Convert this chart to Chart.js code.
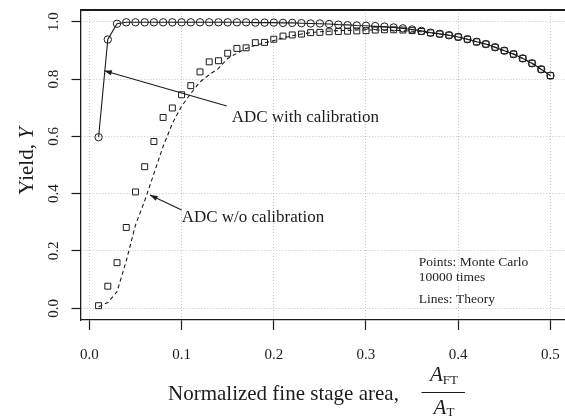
<!DOCTYPE html>
<html>
<head>
<meta charset="utf-8">
<title>ADC yield vs fine stage area</title>
<script src="https://cdn.jsdelivr.net/npm/chart.js@4.4.1/dist/chart.umd.min.js"></script>
<style>
  html, body { margin: 0; padding: 0; background: #fff; }
  #yieldChart { display: block; }
</style>
</head>
<body>
<canvas id="yieldChart" width="565" height="418"></canvas>
<script>
// ------------------------------------------------------- //
// Data
// ------------------------------------------------------ //

// normalized fine stage area A_FT / A_T
var areas = [0.01, 0.02, 0.03, 0.04, 0.05, 0.06, 0.07, 0.08, 0.09, 0.10,
             0.11, 0.12, 0.13, 0.14, 0.15, 0.16, 0.17, 0.18, 0.19, 0.20,
             0.21, 0.22, 0.23, 0.24, 0.25, 0.26, 0.27, 0.28, 0.29, 0.30,
             0.31, 0.32, 0.33, 0.34, 0.35, 0.36, 0.37, 0.38, 0.39, 0.40,
             0.41, 0.42, 0.43, 0.44, 0.45, 0.46, 0.47, 0.48, 0.49, 0.50];

// Monte Carlo, with calibration (circles)
var mcWithCal = [0.597, 0.938, 0.993, 0.998, 0.998, 0.998, 0.998, 0.998, 0.998, 0.998,
                 0.998, 0.998, 0.998, 0.998, 0.998, 0.998, 0.998, 0.997, 0.997, 0.997,
                 0.996, 0.996, 0.995, 0.994, 0.994, 0.992, 0.990, 0.988, 0.987, 0.986,
                 0.985, 0.983, 0.980, 0.977, 0.973, 0.968, 0.962, 0.958, 0.953, 0.947,
                 0.939, 0.930, 0.922, 0.911, 0.899, 0.887, 0.872, 0.855, 0.834, 0.812];

// Monte Carlo, without calibration (squares)
var mcNoCal = [0.009, 0.077, 0.159, 0.282, 0.406, 0.494, 0.582, 0.666, 0.699, 0.745,
               0.777, 0.825, 0.860, 0.864, 0.890, 0.907, 0.909, 0.927, 0.928, 0.939,
               0.950, 0.954, 0.957, 0.962, 0.963, 0.965, 0.966, 0.967, 0.968, 0.969,
               0.971, 0.972, 0.972, 0.971, 0.969, 0.966, 0.961, 0.957, 0.953, 0.947,
               0.939, 0.930, 0.922, 0.911, 0.899, 0.887, 0.872, 0.855, 0.834, 0.812];

// theory, with calibration (solid)
var theoryWithCal = [0.597, 0.938, 0.993, 0.998, 0.998, 0.998, 0.998, 0.998, 0.998, 0.998,
                     0.998, 0.998, 0.998, 0.998, 0.998, 0.998, 0.998, 0.997, 0.997, 0.997,
                     0.996, 0.996, 0.995, 0.994, 0.993, 0.992, 0.990, 0.989, 0.987, 0.986,
                     0.984, 0.982, 0.980, 0.977, 0.973, 0.968, 0.962, 0.958, 0.953, 0.947,
                     0.939, 0.930, 0.922, 0.911, 0.899, 0.887, 0.872, 0.855, 0.834, 0.812];

// theory, without calibration (dashed)
var theoryNoCal = [0.005, 0.020, 0.058, 0.165, 0.290, 0.375, 0.470, 0.565, 0.645, 0.705,
                   0.750, 0.790, 0.815, 0.837, 0.872, 0.890, 0.907, 0.918, 0.926, 0.934,
                   0.944, 0.951, 0.957, 0.962, 0.965, 0.967, 0.969, 0.970, 0.971, 0.971,
                   0.971, 0.971, 0.970, 0.969, 0.967, 0.965, 0.961, 0.957, 0.953, 0.947,
                   0.939, 0.930, 0.922, 0.911, 0.899, 0.887, 0.872, 0.855, 0.834, 0.812];

var xTicks = [0.0, 0.1, 0.2, 0.3, 0.4, 0.5];
var yTicks = [0.0, 0.2, 0.4, 0.6, 0.8, 1.0];

var notes = ['Points: Monte Carlo', '10000 times', 'Lines: Theory'];

function pairs(ys) {
    return areas.map(function (x, i) { return { x: x, y: ys[i] }; });
}

// ------------------------------------------------------- //
// Helpers
// ------------------------------------------------------ //

var INK = '#1c1c1c';
var SERIF = "'Liberation Serif', 'DejaVu Serif', serif";

function arrow(ctx, x0, y0, x1, y1) {
    var ang = Math.atan2(y1 - y0, x1 - x0);
    var len = 8, spread = 0.33;
    ctx.beginPath();
    ctx.moveTo(x0, y0);
    ctx.lineTo(x1, y1);
    ctx.stroke();
    ctx.beginPath();
    ctx.moveTo(x1, y1);
    ctx.lineTo(x1 - len * Math.cos(ang - spread), y1 - len * Math.sin(ang - spread));
    ctx.lineTo(x1 - len * Math.cos(ang + spread), y1 - len * Math.sin(ang + spread));
    ctx.closePath();
    ctx.fill();
}

// frame top, arrows, notes and axis titles
var decorations = {
    id: 'decorations',
    afterDraw: function (chart) {
        var ctx = chart.ctx;
        var area = chart.chartArea;
        var sx = chart.scales.x, sy = chart.scales.y;
        function px(v) { return sx.getPixelForValue(v); }
        function py(v) { return sy.getPixelForValue(v); }

        ctx.save();
        ctx.strokeStyle = INK;
        ctx.fillStyle = INK;

        // top of the frame
        ctx.lineWidth = 2;
        ctx.beginPath();
        ctx.moveTo(area.left, area.top);
        ctx.lineTo(area.right, area.top);
        ctx.stroke();

        // labelled arrows
        ctx.lineWidth = 1.1;
        arrow(ctx, px(0.149), py(0.706), px(0.0162), py(0.829));
        arrow(ctx, px(0.1001), py(0.343), px(0.0657), py(0.395));

        ctx.font = '17px ' + SERIF;
        ctx.textAlign = 'left';
        ctx.textBaseline = 'middle';
        ctx.fillText('ADC with calibration', px(0.1543), py(0.667));
        ctx.fillText('ADC w/o calibration', px(0.1001), py(0.315));

        ctx.font = '13.5px ' + SERIF;
        ctx.fillText(notes[0], px(0.3573), py(0.159));
        ctx.fillText(notes[1], px(0.3573), py(0.108));
        ctx.fillText(notes[2], px(0.3573), py(0.031));

        // y title: Yield, Y
        ctx.save();
        ctx.translate(27.5, 161);
        ctx.rotate(-Math.PI / 2);
        ctx.font = '21px ' + SERIF;
        var w1 = ctx.measureText('Yield, ').width;
        ctx.font = 'italic 21px ' + SERIF;
        var w2 = ctx.measureText('Y').width;
        ctx.textAlign = 'left';
        ctx.font = '21px ' + SERIF;
        ctx.fillText('Yield, ', -(w1 + w2) / 2, 0);
        ctx.font = 'italic 21px ' + SERIF;
        ctx.fillText('Y', -(w1 + w2) / 2 + w1, 0);
        ctx.restore();

        // x title with A_FT / A_T fraction
        ctx.textBaseline = 'alphabetic';
        ctx.textAlign = 'left';
        ctx.font = '21px ' + SERIF;
        ctx.fillText('Normalized fine stage area,', 168, 399.5);

        function frac(text, sub, cx, base) {
            ctx.font = 'italic 21px ' + SERIF;
            var wa = ctx.measureText(text).width;
            ctx.font = '13px ' + SERIF;
            var ws = ctx.measureText(sub).width;
            var left = cx - (wa + ws) / 2;
            ctx.font = 'italic 21px ' + SERIF;
            ctx.fillText(text, left, base);
            ctx.font = '13px ' + SERIF;
            ctx.fillText(sub, left + wa, base + 2.5);
        }
        frac('A', 'FT', 444, 381);
        ctx.lineWidth = 1;
        ctx.beginPath();
        ctx.moveTo(421.5, 392.5);
        ctx.lineTo(465, 392.5);
        ctx.stroke();
        frac('A', 'T', 444, 413.5);

        ctx.restore();
    }
};

// ------------------------------------------------------- //
// Chart
// ------------------------------------------------------ //

var ctx = document.getElementById('yieldChart').getContext('2d');
var yieldChart = new Chart(ctx, {
    type: 'scatter',
    data: {
        datasets: [{
            label: 'MC with calibration',
            data: pairs(mcWithCal),
            showLine: false,
            pointStyle: 'circle',
            pointRadius: 3.7,
            pointBorderWidth: 1,
            borderColor: INK,
            backgroundColor: 'rgba(0,0,0,0)'
        }, {
            label: 'MC w/o calibration',
            data: pairs(mcNoCal),
            showLine: false,
            pointStyle: 'rect',
            pointRadius: 4.2,
            pointBorderWidth: 1,
            borderColor: INK,
            backgroundColor: 'rgba(0,0,0,0)'
        }, {
            label: 'Theory with calibration',
            data: pairs(theoryWithCal),
            showLine: true,
            pointRadius: 0,
            borderWidth: 1.1,
            borderColor: INK,
            tension: 0
        }, {
            label: 'Theory w/o calibration',
            data: pairs(theoryNoCal),
            showLine: true,
            pointRadius: 0,
            borderWidth: 1.1,
            borderDash: [4, 3],
            borderColor: INK,
            tension: 0
        }]
    },
    options: {
        responsive: false,
        animation: false,
        devicePixelRatio: 1,
        layout: {
            autoPadding: false,
            padding: { top: 10, right: 0, left: 0, bottom: 0 }
        },
        plugins: {
            legend: { display: false },
            tooltip: { enabled: false }
        },
        scales: {
            x: {
                type: 'linear',
                min: -0.0096,
                max: 0.5158,
                afterBuildTicks: function (scale) {
                    scale.ticks = xTicks.map(function (v) { return { value: v }; });
                },
                afterFit: function (scale) {
                    scale.height = 98;
                    scale.paddingLeft = 0;
                    scale.paddingRight = 0;
                },
                ticks: {
                    color: INK,
                    padding: 16,
                    font: { family: SERIF, size: 15 },
                    callback: function (v) { return Number(v).toFixed(1); }
                },
                grid: {
                    color: '#c4c4c4',
                    lineWidth: 1,
                    tickLength: 10,
                    tickColor: INK,
                    tickWidth: 1.2
                },
                border: { display: true, color: INK, width: 1.3, dash: [1, 2] }
            },
            y: {
                type: 'linear',
                min: -0.041,
                max: 1.041,
                afterBuildTicks: function (scale) {
                    scale.ticks = yTicks.map(function (v) { return { value: v }; });
                },
                afterFit: function (scale) {
                    scale.width = 80.5;
                    scale.paddingTop = 0;
                    scale.paddingBottom = 0;
                },
                ticks: {
                    color: INK,
                    padding: 8,
                    minRotation: 90,
                    maxRotation: 90,
                    crossAlign: 'center',
                    font: { family: SERIF, size: 15 },
                    callback: function (v) { return Number(v).toFixed(1); }
                },
                grid: {
                    color: '#c4c4c4',
                    lineWidth: 1,
                    tickLength: 9,
                    tickColor: INK,
                    tickWidth: 1.2
                },
                border: { display: true, color: INK, width: 1.3, dash: [1, 2] }
            }
        }
    },
    plugins: [decorations]
});
</script>
</body>
</html>
